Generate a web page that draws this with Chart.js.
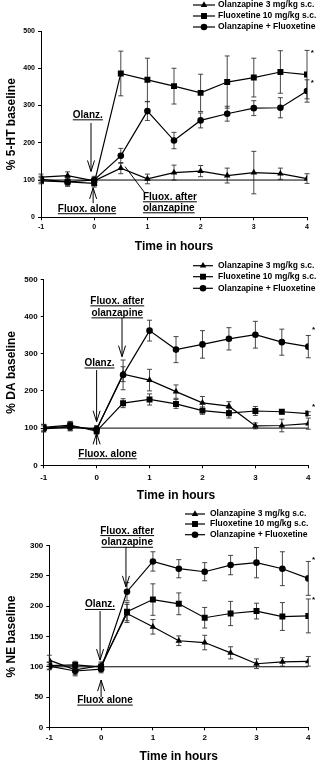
<!DOCTYPE html>
<html>
<head>
<meta charset="utf-8">
<script src="https://cdn.jsdelivr.net/npm/chart.js@4.4.1/dist/chart.umd.min.js"></script>
<style>
    html, body { margin: 0; padding: 0; background: #fff; }
    body { width: 326px; height: 765px; position: relative; overflow: hidden; }
    canvas { position: absolute; left: 0; }
</style>
</head>
<body>
<canvas id="chart-ht" width="326" height="255" style="top:0"></canvas>
<canvas id="chart-da" width="326" height="250" style="top:255px"></canvas>
<canvas id="chart-ne" width="326" height="260" style="top:505px"></canvas>
<script>
/* ── Data ── */
const HOURS = [-1, -0.5, 0, 0.5, 1, 1.5, 2, 2.5, 3, 3.5, 4];
const SERIES_LABELS = ['Olanzapine 3 mg/kg s.c.', 'Fluoxetine 10 mg/kg s.c.', 'Olanzapine + Fluoxetine'];
const BASELINE_PCT = 100;

// 5-HT
const HT_OLANZ     = [108, 112, 98, 132, 103, 120, 124, 112, 120, 117, 104];
const HT_OLANZ_ERR = [8, 10, 8, 15, 13, 20, 15, 20, 57, 15, 13];
const HT_FLUOX     = [98, 95, 91, 386, 369, 352, 334, 363, 375, 390, 383];
const HT_FLUOX_ERR = [8, 12, 10, 60, 58, 48, 50, 70, 52, 57, 65];
const HT_COMBO     = [102, 95, 100, 165, 285, 206, 260, 278, 293, 294, 339];
const HT_COMBO_ERR = [8, 10, 10, 20, 25, 22, 20, 20, 20, 27, 30];

// DA
const DA_OLANZ     = [100, 105, 96, 245, 229, 198, 168, 159, 106, 107, 112];
const DA_OLANZ_ERR = [10, 12, 8, 20, 29, 18, 17, 12, 8, 17, 15];
const DA_FLUOX     = [102, 108, 92, 167, 177, 165, 147, 140, 146, 144, 139];
const DA_FLUOX_ERR = [8, 10, 10, 12, 15, 12, 10, 13, 12, 6, 5];
const DA_COMBO     = [98, 103, 97, 243, 362, 311, 325, 340, 351, 331, 319];
const DA_COMBO_ERR = [8, 10, 10, 40, 28, 35, 37, 30, 36, 35, 30];

// NE
const NE_OLANZ     = [111, 95, 102, 188, 166, 143, 140, 123, 105, 108, 109];
const NE_OLANZ_ERR = [8, 8, 6, 15, 12, 8, 12, 10, 8, 7, 8];
const NE_FLUOX     = [102, 103, 100, 191, 211, 204, 181, 188, 192, 183, 184];
const NE_FLUOX_ERR = [6, 6, 6, 15, 26, 18, 17, 20, 13, 23, 28];
const NE_COMBO     = [101, 93, 96, 224, 274, 262, 257, 268, 272, 262, 246];
const NE_COMBO_ERR = [6, 8, 6, 15, 16, 15, 15, 16, 25, 28, 28];

const FONT = "'Liberation Sans', Arial, sans-serif";
const MARKERS = [
    { pointStyle: 'triangle', pointRadius: 3.8 },
    { pointStyle: 'rect', pointRadius: 4.2 },
    { pointStyle: 'circle', pointRadius: 3.3 },
];

function makeDatasets(values, errors) {
    const sets = values.map((vals, i) => ({
        label: SERIES_LABELS[i],
        data: HOURS.map((h, j) => ({ x: h, y: vals[j] })),
        err: errors[i],
        borderColor: '#000',
        backgroundColor: '#000',
        borderWidth: 1.2,
        pointBorderWidth: 0,
        pointStyle: MARKERS[i].pointStyle,
        pointRadius: MARKERS[i].pointRadius,
        order: 0,
    }));
    sets.push({
        label: 'baseline',
        data: [{ x: HOURS[0], y: BASELINE_PCT }, { x: HOURS[HOURS.length - 1], y: BASELINE_PCT }],
        borderColor: '#000',
        borderWidth: 1,
        pointRadius: 0,
        order: 1,
    });
    return sets;
}

/* ── Error bars, legend, notes ── */
function drawArrowHead(ctx, x, y, dir) {
    ctx.beginPath();
    ctx.moveTo(x - 3.5, y - dir * 11);
    ctx.lineTo(x, y);
    ctx.lineTo(x + 3.5, y - dir * 11);
    ctx.stroke();
}

const decor = {
    id: 'decor',
    beforeDatasetsDraw(chart) {
        const { ctx, scales: { y } } = chart;
        ctx.save();
        ctx.strokeStyle = '#333';
        ctx.lineWidth = 0.9;
        chart.data.datasets.forEach((ds, i) => {
            if (!ds.err) return;
            chart.getDatasetMeta(i).data.forEach((pt, j) => {
                const v = ds.data[j].y, e = ds.err[j];
                const top = y.getPixelForValue(v + e), bot = y.getPixelForValue(v - e);
                ctx.beginPath();
                ctx.moveTo(pt.x, top); ctx.lineTo(pt.x, bot);
                ctx.moveTo(pt.x - 2.5, top); ctx.lineTo(pt.x + 2.5, top);
                ctx.moveTo(pt.x - 2.5, bot); ctx.lineTo(pt.x + 2.5, bot);
                ctx.stroke();
            });
        });
        ctx.restore();
    },
    afterDraw(chart, args, opts) {
        const { ctx, scales: { x: xs, y: ys } } = chart;
        ctx.save();

        // legend
        const lg = opts.legend;
        ctx.font = `bold ${lg.size}px ${FONT}`;
        ctx.textBaseline = 'middle';
        ctx.textAlign = 'left';
        ctx.fillStyle = '#000';
        ctx.strokeStyle = '#000';
        chart.data.datasets.forEach((ds, i) => {
            if (!ds.err) return;
            const yy = lg.rows[i];
            ctx.lineWidth = 1.2;
            ctx.beginPath(); ctx.moveTo(lg.x0, yy); ctx.lineTo(lg.x1, yy); ctx.stroke();
            Chart.helpers.drawPoint(ctx, { pointStyle: ds.pointStyle, radius: ds.pointRadius, rotation: 0, borderWidth: 0 }, (lg.x0 + lg.x1) / 2, yy);
            ctx.fillText(ds.label, lg.xText, yy);
        });

        // notes with underlines and arrows
        ctx.font = `bold 10px ${FONT}`;
        ctx.textBaseline = 'alphabetic';
        ctx.lineWidth = 1;
        opts.notes.forEach(n => {
            const px = xs.getPixelForValue(n.x), py = ys.getPixelForValue(n.y);
            const align = n.align || 'center';
            ctx.textAlign = align;
            n.lines.forEach((t, k) => {
                const ly = py + k * (n.gap || 11.5);
                ctx.fillText(t, px, ly);
                const w = ctx.measureText(t).width;
                ctx.fillRect(align === 'left' ? px : px - w / 2, ly + 1.5, w, 1);
            });
            if (n.arrow) {
                const ax = xs.getPixelForValue(n.arrow.x);
                const y0 = ys.getPixelForValue(n.arrow.from), y1 = ys.getPixelForValue(n.arrow.to);
                ctx.beginPath(); ctx.moveTo(ax, y0); ctx.lineTo(ax, y1); ctx.stroke();
                drawArrowHead(ctx, ax, y1, Math.sign(y1 - y0));
            }
            if (n.link) {
                ctx.beginPath();
                ctx.moveTo(xs.getPixelForValue(n.link.x0), ys.getPixelForValue(n.link.y0));
                ctx.lineTo(xs.getPixelForValue(n.link.x1), ys.getPixelForValue(n.link.y1));
                ctx.stroke();
            }
        });

        // significance stars
        ctx.font = `bold 8px ${FONT}`;
        ctx.textAlign = 'center';
        ctx.textBaseline = 'middle';
        opts.stars.forEach(s => ctx.fillText('*', xs.getPixelForValue(s.x), ys.getPixelForValue(s.y)));

        ctx.restore();
    }
};

/* ── One panel ── */
function renderPanel(id, cfg) {
    const canvas = document.getElementById(id);
    const H = canvas.height;
    new Chart(canvas.getContext('2d'), {
        type: 'line',
        data: { datasets: makeDatasets(cfg.values, cfg.errors) },
        options: {
            responsive: false,
            animation: false,
            devicePixelRatio: 1,
            layout: { padding: { top: cfg.area.top, right: 326 - cfg.area.right, left: 0, bottom: 0 } },
            plugins: {
                legend: { display: false },
                tooltip: { enabled: false },
                decor: { legend: cfg.legend, notes: cfg.notes, stars: cfg.stars },
            },
            scales: {
                x: {
                    type: 'linear', min: -1, max: 4,
                    afterFit: s => { s.height = H - cfg.area.bottom; },
                    border: { color: '#000', width: 1 },
                    grid: { drawOnChartArea: false, tickLength: 3, color: '#000' },
                    ticks: { stepSize: 1, padding: cfg.xTickPad, color: '#000', maxRotation: 0, font: { family: FONT, size: cfg.tickSize, weight: 'bold' } },
                    title: { display: true, text: 'Time in hours', color: '#000', padding: { top: 0, bottom: cfg.xTitlePad }, font: { family: FONT, size: 12, weight: 'bold' } },
                },
                y: {
                    min: 0, max: cfg.yMax,
                    afterFit: s => { s.width = cfg.area.left; },
                    border: { color: '#000', width: 1 },
                    grid: { drawOnChartArea: false, tickLength: 3, color: '#000' },
                    ticks: { stepSize: cfg.yStep, padding: 3, color: '#000', font: { family: FONT, size: cfg.tickSize, weight: 'bold' } },
                    title: { display: true, text: cfg.yTitle, color: '#000', padding: { top: 4, bottom: 0 }, font: { family: FONT, size: 12, weight: 'bold' } },
                },
            },
        },
        plugins: [decor],
    });
}

renderPanel('chart-ht', {
    values: [HT_OLANZ, HT_FLUOX, HT_COMBO],
    errors: [HT_OLANZ_ERR, HT_FLUOX_ERR, HT_COMBO_ERR],
    yMax: 500, yStep: 100, yTitle: '% 5-HT baseline',
    area: { left: 41, right: 307, top: 31, bottom: 217.3 },
    tickSize: 7, xTickPad: 2.5, xTitlePad: 1.2,
    legend: { x0: 193, x1: 215, xText: 218, size: 8.5, rows: [5, 16, 27] },
    notes: [
        { lines: ['Olanz.'], x: -0.12, y: 267, arrow: { x: -0.06, from: 253, to: 123 } },
        { lines: ['Fluox. alone'], x: -0.135, y: 15, arrow: { x: -0.02, from: 38, to: 79 } },
        { lines: ['Fluox. after', 'olanzapine'], x: 0.917, y: 47, align: 'left', gap: 11, link: { x0: 0.955, y0: 65, x1: 0.58, y1: 136 } },
    ],
    stars: [{ x: 4.1, y: 441 }, { x: 4.1, y: 362 }],
});

renderPanel('chart-da', {
    values: [DA_OLANZ, DA_FLUOX, DA_COMBO],
    errors: [DA_OLANZ_ERR, DA_FLUOX_ERR, DA_COMBO_ERR],
    yMax: 500, yStep: 100, yTitle: '% DA baseline',
    area: { left: 43.7, right: 308.3, top: 24.3, bottom: 210.3 },
    tickSize: 8, xTickPad: 4.5, xTitlePad: 2.2,
    legend: { x0: 193, x1: 213, xText: 218, size: 8.5, rows: [10.7, 21.7, 33.3] },
    notes: [
        { lines: ['Fluox. after', 'olanzapine'], x: 0.39, y: 434, gap: 12, arrow: { x: 0.48, from: 396, to: 292 } },
        { lines: ['Olanz.'], x: 0.054, y: 267, arrow: { x: 0, from: 256, to: 117 } },
        { lines: ['Fluox. alone'], x: 0.206, y: 23, arrow: { x: 0, from: 55, to: 86 } },
    ],
    stars: [{ x: 4.1, y: 364 }, { x: 4.1, y: 158 }],
});

renderPanel('chart-ne', {
    values: [NE_OLANZ, NE_FLUOX, NE_COMBO],
    errors: [NE_OLANZ_ERR, NE_FLUOX_ERR, NE_COMBO_ERR],
    yMax: 300, yStep: 50, yTitle: '% NE baseline',
    area: { left: 49.3, right: 308.3, top: 40.7, bottom: 222.3 },
    tickSize: 8, xTickPad: 2.5, xTitlePad: 1.5,
    legend: { x0: 185, x1: 205, xText: 210, size: 8.5, rows: [9, 19, 29.7] },
    notes: [
        { lines: ['Fluox. after', 'olanzapine'], x: 0.504, y: 320, gap: 11.7, arrow: { x: 0.48, from: 298, to: 232 } },
        { lines: ['Olanz.'], x: -0.02, y: 198, arrow: { x: -0.02, from: 192, to: 111 } },
        { lines: ['Fluox alone'], x: 0.075, y: 40, arrow: { x: 0, from: 50, to: 78 } },
    ],
    stars: [{ x: 4.1, y: 276 }, { x: 4.1, y: 211 }],
});
</script>
</body>
</html>
